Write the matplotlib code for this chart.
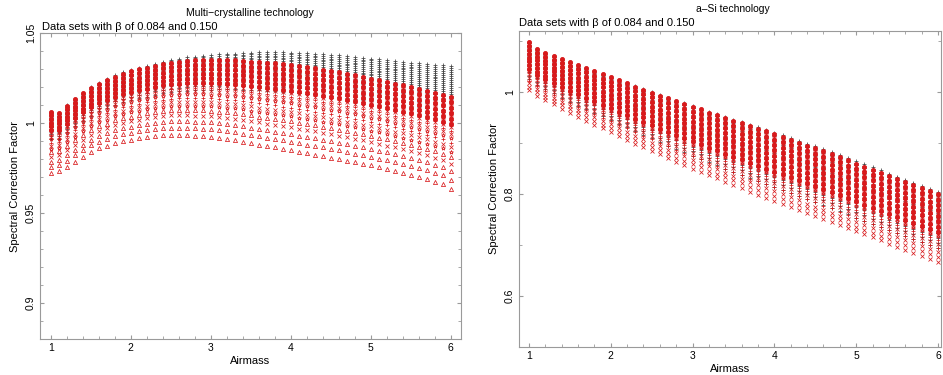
import numpy as np
import matplotlib
matplotlib.use("Agg")
import matplotlib.pyplot as plt
from matplotlib.ticker import MultipleLocator, FuncFormatter

plt.rcParams['font.family'] = ['Liberation Sans', 'DejaVu Sans']

# airmass grid, 1.0 .. 6.0 in steps of 0.1
airmass = np.round(np.arange(1.0, 6.01, 0.1), 1)

# ---- multi-crystalline panel: column envelopes ----
mc_red_top = [1.0063, 1.0055, 1.0096, 1.0133, 1.0165, 1.0193, 1.0217, 1.0240, 1.0257, 1.0274,
              1.0287, 1.0298, 1.0307, 1.0318, 1.0328, 1.0335, 1.0341, 1.0345, 1.0348, 1.0350,
              1.0351, 1.0351, 1.0350, 1.0348, 1.0345, 1.0341, 1.0338, 1.0335, 1.0331, 1.0327,
              1.0322, 1.0316, 1.0310, 1.0303, 1.0296, 1.0289, 1.0281, 1.0273, 1.0265, 1.0256,
              1.0247, 1.0238, 1.0229, 1.0219, 1.0209, 1.0199, 1.0189, 1.0179, 1.0168, 1.0157,
              1.0146]
mc_red_bot = [0.9720, 0.9735, 0.9757, 0.9785, 0.9813, 0.9840, 0.9860, 0.9872, 0.9890, 0.9900,
              0.9906, 0.9915, 0.9922, 0.9928, 0.9932, 0.9934, 0.9934, 0.9932, 0.9928, 0.9926,
              0.9922, 0.9915, 0.9910, 0.9904, 0.9896, 0.9888, 0.9880, 0.9872, 0.9864, 0.9856,
              0.9848, 0.9840, 0.9832, 0.9824, 0.9816, 0.9808, 0.9800, 0.9791, 0.9782, 0.9773,
              0.9764, 0.9754, 0.9744, 0.9734, 0.9723, 0.9712, 0.9700, 0.9688, 0.9675, 0.9660,
              0.9635]
mc_blk_top = [1.0063, 1.0056, 1.0098, 1.0136, 1.0169, 1.0198, 1.0223, 1.0247, 1.0265, 1.0283,
              1.0296, 1.0308, 1.0318, 1.0330, 1.0341, 1.0350, 1.0358, 1.0364, 1.0369, 1.0374,
              1.0377, 1.0381, 1.0384, 1.0386, 1.0388, 1.0391, 1.0392, 1.0393, 1.0393, 1.0392,
              1.0391, 1.0389, 1.0387, 1.0385, 1.0382, 1.0378, 1.0375, 1.0371, 1.0367, 1.0363,
              1.0358, 1.0354, 1.0350, 1.0345, 1.0340, 1.0335, 1.0331, 1.0327, 1.0324, 1.0321,
              1.0318]
mc_blk_bot = [0.9725, 0.9740, 0.9763, 0.9792, 0.9821, 0.9849, 0.9870, 0.9883, 0.9902, 0.9913,
              0.9920, 0.9930, 0.9938, 0.9945, 0.9951, 0.9954, 0.9956, 0.9956, 0.9954, 0.9954,
              0.9952, 0.9948, 0.9945, 0.9942, 0.9937, 0.9932, 0.9926, 0.9920, 0.9914, 0.9908,
              0.9902, 0.9896, 0.9890, 0.9884, 0.9878, 0.9872, 0.9866, 0.9859, 0.9852, 0.9845,
              0.9838, 0.9831, 0.9824, 0.9817, 0.9809, 0.9801, 0.9793, 0.9785, 0.9776, 0.9767,
              0.9752]

# ---- a-Si panel ----
asi_red_top = [1.098, 1.084, 1.077, 1.071, 1.065, 1.059, 1.053, 1.047, 1.041, 1.035,
               1.029, 1.023, 1.017, 1.011, 1.005, 0.999, 0.993, 0.988, 0.982, 0.977,
               0.971, 0.966, 0.960, 0.955, 0.950, 0.944, 0.939, 0.933, 0.928, 0.923,
               0.917, 0.912, 0.906, 0.901, 0.895, 0.890, 0.884, 0.879, 0.873, 0.866,
               0.860, 0.854, 0.848, 0.842, 0.836, 0.830, 0.824, 0.818, 0.812, 0.806,
               0.800]
asi_red_bot = [1.004, 0.993, 0.984, 0.976, 0.967, 0.959, 0.951, 0.944, 0.936, 0.929,
               0.922, 0.914, 0.907, 0.899, 0.892, 0.885, 0.878, 0.870, 0.863, 0.857,
               0.850, 0.844, 0.837, 0.831, 0.824, 0.818, 0.812, 0.805, 0.799, 0.793,
               0.787, 0.781, 0.775, 0.769, 0.763, 0.757, 0.751, 0.745, 0.739, 0.733,
               0.727, 0.721, 0.715, 0.709, 0.703, 0.697, 0.691, 0.685, 0.679, 0.673,
               0.667]
asi_blk_top = [1.098, 1.084, 1.077, 1.071, 1.065, 1.059, 1.053, 1.047, 1.041, 1.035,
               1.029, 1.0235, 1.0175, 1.0115, 1.0055, 0.9996, 0.9937, 0.9888, 0.9830, 0.9782,
               0.9723, 0.9675, 0.9617, 0.9569, 0.9521, 0.9463, 0.9415, 0.9357, 0.9310, 0.9262,
               0.9204, 0.9156, 0.9098, 0.9050, 0.8992, 0.8944, 0.8876, 0.8827, 0.8768, 0.8699,
               0.8640, 0.8581, 0.8522, 0.8463, 0.8404, 0.8345, 0.8285, 0.8226, 0.8167, 0.8108,
               0.8040]
asi_blk_bot = [1.016, 1.005, 0.996, 0.988, 0.979, 0.971, 0.963, 0.956, 0.948, 0.941,
               0.934, 0.926, 0.919, 0.911, 0.904, 0.897, 0.890, 0.882, 0.875, 0.869,
               0.862, 0.856, 0.849, 0.843, 0.836, 0.830, 0.824, 0.817, 0.811, 0.805,
               0.799, 0.793, 0.787, 0.781, 0.775, 0.769, 0.763, 0.757, 0.751, 0.745,
               0.739, 0.733, 0.727, 0.721, 0.715, 0.709, 0.703, 0.697, 0.691, 0.685,
               0.679]

# relative depth of each data row inside a column (0 = top, 1 = bottom)
mc_rows = [0.000, 0.015, 0.030, 0.045, 0.060, 0.075, 0.090, 0.105, 0.120, 0.135, 0.150, 0.165,
           0.180, 0.195, 0.210, 0.225, 0.240, 0.255, 0.270, 0.285, 0.300, 0.315, 0.330,
           0.370, 0.410, 0.450, 0.500, 0.550, 0.600, 0.660, 0.730, 0.810, 0.900, 1.000]
mc_sparse_marks = ['+', 'x', '*', '+', 'x', '*', '^', 'x', '^', '^', '^']
mc_blk_rows = [0.00, 0.02, 0.04, 0.06, 0.08, 0.10, 0.12, 0.14, 0.16, 0.18, 0.20, 0.22,
               0.24, 0.26, 0.28, 0.30, 0.33, 0.36, 0.40, 0.45]

asi_rows = [0.00, 0.02, 0.04, 0.06, 0.08, 0.10, 0.12, 0.14, 0.16, 0.18, 0.20, 0.22,
            0.24, 0.26, 0.28, 0.30, 0.32, 0.34, 0.36, 0.38, 0.40, 0.42, 0.44, 0.46,
            0.48, 0.50, 0.52, 0.54, 0.56, 0.58, 0.60, 0.62,
            0.68, 0.74, 0.80, 0.86, 0.93, 1.00]
asi_sparse_marks = ['+', 'x', '+', 'x', 'x', 'x']
asi_blk_rows = [0.00, 0.03, 0.06, 0.10, 0.15, 0.20, 0.26, 0.33, 0.40, 0.48, 0.56, 0.64,
                0.72, 0.80, 0.88]

RED = '#d81a1c'
BLK = '#454545'
GREY = '#9a9a9a'
DENSE_CYCLE = ['o', '+', 'x', '*']


def row_marks(rows, sparse):
    n_dense = len(rows) - len(sparse)
    return [DENSE_CYCLE[i % len(DENSE_CYCLE)] for i in range(n_dense)] + sparse


def draw_set(ax, top, bot, rows, marks, color, ms, mew):
    top = np.array(top)
    bot = np.array(bot)
    for f, m in zip(rows, marks):
        y = top - f * (top - bot)
        face = color if m == 'o' else 'none'
        ax.plot(airmass, y, linestyle='none', marker=m, ms=ms, mew=mew,
                mfc=face, mec=color)


def style_axes(ax):
    for s in ax.spines.values():
        s.set_color(GREY)
        s.set_linewidth(0.8)
    ax.tick_params(which='both', direction='in', top=True, right=True,
                   color=GREY, labelsize=7.5, pad=3)
    ax.tick_params(which='major', length=3)
    ax.tick_params(which='minor', length=2)
    ax.xaxis.set_major_locator(MultipleLocator(1))
    ax.xaxis.set_minor_locator(MultipleLocator(0.2))
    ax.yaxis.set_major_formatter(FuncFormatter(lambda v, p: '%g' % round(v, 3)))
    for lab in ax.get_yticklabels():
        lab.set_rotation(90)
        lab.set_va('center')
    ax.set_xlabel('Airmass', fontsize=8, labelpad=2)
    ax.set_ylabel('Spectral Correction Factor', fontsize=8, labelpad=4)


fig = plt.figure(figsize=(9.43, 3.75), dpi=100)

ax1 = fig.add_axes([40 / 943, 1 - 339 / 375, 421 / 943, 306 / 375])
draw_set(ax1, mc_blk_top, mc_blk_bot, mc_blk_rows, ['+'] * len(mc_blk_rows), BLK, 3.2, 0.55)
draw_set(ax1, mc_red_top, mc_red_bot, mc_rows, row_marks(mc_rows, mc_sparse_marks), RED, 3.0, 0.55)
ax1.set_xlim(0.866, 6.13)
ax1.set_ylim(0.88, 1.05)
ax1.yaxis.set_major_locator(MultipleLocator(0.05))
ax1.yaxis.set_minor_locator(MultipleLocator(0.01))
style_axes(ax1)
fig.text(250 / 943, 1 - 13 / 375, 'Multi\u2212crystalline technology', ha='center', va='center', fontsize=7.5)
fig.text(42 / 943, 1 - 27 / 375, 'Data sets with \u03b2 of 0.084 and 0.150', ha='left', va='center', fontsize=8)

ax2 = fig.add_axes([519 / 943, 1 - 347 / 375, 422 / 943, 316 / 375])
draw_set(ax2, asi_blk_top, asi_blk_bot, asi_blk_rows, ['+'] * len(asi_blk_rows), BLK, 3.2, 0.55)
draw_set(ax2, asi_red_top, asi_red_bot, asi_rows, row_marks(asi_rows, asi_sparse_marks), RED, 3.0, 0.55)
ax2.set_xlim(0.878, 6.037)
ax2.set_ylim(0.5, 1.12)
ax2.yaxis.set_major_locator(MultipleLocator(0.2))
ax2.yaxis.set_minor_locator(MultipleLocator(0.1))
style_axes(ax2)
fig.text(733 / 943, 1 - 9 / 375, 'a\u2013Si technology', ha='center', va='center', fontsize=7.5)
fig.text(519 / 943, 1 - 23 / 375, 'Data sets with \u03b2 of 0.084 and 0.150', ha='left', va='center', fontsize=8)

fig.savefig('out.png', dpi=100)
